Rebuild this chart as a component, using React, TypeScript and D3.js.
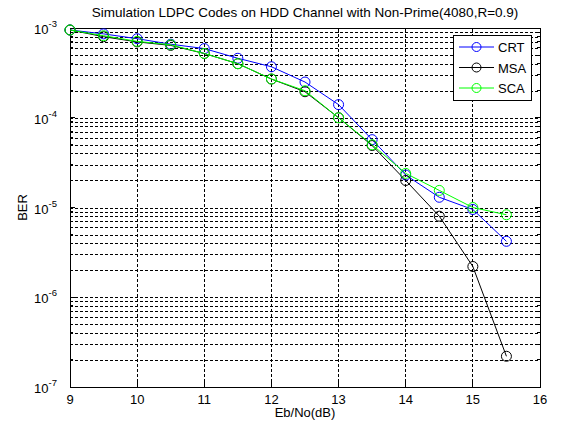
import React, { useEffect, useRef } from "react";
import * as d3 from "d3";

const ebno = [9, 9.5, 10, 10.5, 11, 11.5, 12, 12.5, 13, 13.5, 14, 14.5, 15, 15.5];
const crt = [9.5e-4, 8.6e-4, 7.6e-4, 6.6e-4, 5.9e-4, 4.6e-4, 3.7e-4, 2.5e-4, 1.4e-4, 5.7e-5, 2.3e-5, 1.3e-5, 9.5e-6, 4.2e-6];
const msa = [9.5e-4, 8.0e-4, 7.0e-4, 6.4e-4, 5.2e-4, 4.0e-4, 2.7e-4, 1.95e-4, 1.0e-4, 4.9e-5, 2.0e-5, 8.0e-6, 2.2e-6, 2.2e-7];
const sca = [9.5e-4, 8.2e-4, 7.1e-4, 6.5e-4, 5.2e-4, 4.0e-4, 2.7e-4, 2.0e-4, 1.0e-4, 5.0e-5, 2.4e-5, 1.55e-5, 1.0e-5, 8.3e-6];
const xTicks = [9, 10, 11, 12, 13, 14, 15, 16];
const yExps = [-3, -4, -5, -6, -7];

const series = [
  { name: "CRT", values: crt, color: "#0000ff" },
  { name: "MSA", values: msa, color: "#000000" },
  { name: "SCA", values: sca, color: "#00ff00" },
];

export default function App() {
  const ref = useRef<SVGSVGElement>(null);

  useEffect(() => {
    const width = 578;
    const height = 428;
    const margin = { top: 28, right: 38, bottom: 41, left: 70 };
    const font = "Liberation Sans, Arial, sans-serif";

    const svg = d3.select(ref.current);
    svg.selectAll("*").remove();

    const x = d3.scaleLinear().domain([9, 16]).range([margin.left, width - margin.right]);
    const y = d3.scaleLog().domain([1e-7, 1e-3]).range([height - margin.bottom, margin.top]);
    const [x0, x1] = x.range();
    const [y0, y1] = y.range();

    svg.append("rect").attr("width", width).attr("height", height).attr("fill", "#fff");

    // Grid
    const grid = svg.append("g").attr("stroke", "#000").attr("stroke-width", 1)
      .attr("stroke-dasharray", "3,2").attr("shape-rendering", "crispEdges");
    xTicks.slice(1, -1).forEach((t) => {
      grid.append("line").attr("x1", x(t)).attr("x2", x(t)).attr("y1", y0).attr("y2", y1);
    });
    const minor: number[] = [];
    const major: number[] = [];
    for (let e = -7; e < -3; e++) {
      for (let m = 1; m <= 9; m++) {
        const v = m * Math.pow(10, e);
        if (m === 1) major.push(v);
        else minor.push(v);
      }
    }
    major.push(1e-3);
    [...major.slice(1, -1), ...minor].forEach((v) => {
      grid.append("line").attr("x1", x0).attr("x2", x1).attr("y1", Math.round(y(v)) + 0.5).attr("y2", Math.round(y(v)) + 0.5);
    });

    // Ticks
    const ticks = svg.append("g").attr("stroke", "#000").attr("shape-rendering", "crispEdges");
    xTicks.forEach((t) => {
      ticks.append("line").attr("x1", x(t)).attr("x2", x(t)).attr("y1", y0).attr("y2", y0 - 5);
      ticks.append("line").attr("x1", x(t)).attr("x2", x(t)).attr("y1", y1).attr("y2", y1 + 5);
    });
    major.forEach((v) => {
      ticks.append("line").attr("x1", x0).attr("x2", x0 + 5).attr("y1", y(v)).attr("y2", y(v));
      ticks.append("line").attr("x1", x1).attr("x2", x1 - 5).attr("y1", y(v)).attr("y2", y(v));
    });
    minor.forEach((v) => {
      ticks.append("line").attr("x1", x0).attr("x2", x0 + 3).attr("y1", y(v)).attr("y2", y(v));
      ticks.append("line").attr("x1", x1).attr("x2", x1 - 3).attr("y1", y(v)).attr("y2", y(v));
    });

    // Axes box
    svg.append("rect").attr("x", x0).attr("y", y1).attr("width", x1 - x0).attr("height", y0 - y1)
      .attr("fill", "none").attr("stroke", "#000").attr("shape-rendering", "crispEdges");

    // Tick labels
    xTicks.forEach((t) => {
      svg.append("text").attr("x", x(t)).attr("y", y0 + 17).attr("text-anchor", "middle")
        .attr("font-family", font).attr("font-size", 13).attr("fill", "#000").text(t);
    });
    yExps.forEach((e) => {
      const t = svg.append("text").attr("x", x0 - 13).attr("y", y(Math.pow(10, e)) + 6)
        .attr("text-anchor", "end").attr("font-family", font).attr("font-size", 13).attr("fill", "#000");
      t.append("tspan").text("10");
      t.append("tspan").attr("font-size", 9.5).attr("dy", -7).text(String(e));
    });

    // Lines and markers
    const line = d3.line<number>().x((_, i) => x(ebno[i])).y((d) => y(d));
    series.forEach((s) => {
      svg.append("path").datum(s.values).attr("d", line).attr("fill", "none")
        .attr("stroke", s.color).attr("stroke-width", 1);
      svg.append("g").selectAll("circle").data(s.values).join("circle")
        .attr("cx", (_, i) => x(ebno[i])).attr("cy", (d) => y(d)).attr("r", 5)
        .attr("fill", "none").attr("stroke", s.color).attr("stroke-width", 1);
    });

    // Legend
    const lg = svg.append("g").attr("transform", `translate(${x1 - 87},${y1 + 7})`);
    lg.append("rect").attr("width", 78).attr("height", 65).attr("fill", "#fff").attr("stroke", "#000")
      .attr("shape-rendering", "crispEdges");
    series.forEach((s, i) => {
      const ly = 12 + i * 20.5;
      lg.append("line").attr("x1", 6).attr("x2", 41).attr("y1", ly).attr("y2", ly)
        .attr("stroke", s.color);
      lg.append("circle").attr("cx", 23.5).attr("cy", ly).attr("r", 4.5).attr("fill", "none").attr("stroke", s.color);
      lg.append("text").attr("x", 45).attr("y", ly + 5).attr("font-family", font).attr("font-size", 13)
        .attr("fill", "#000").text(s.name);
    });

    // Titles
    svg.append("text").attr("x", (x0 + x1) / 2).attr("y", 17).attr("text-anchor", "middle")
      .attr("font-family", font).attr("font-size", 13.5).attr("fill", "#000")
      .text("Simulation LDPC Codes on HDD Channel with Non-Prime(4080,R=0.9)");
    svg.append("text").attr("x", (x0 + x1) / 2).attr("y", y0 + 30).attr("text-anchor", "middle")
      .attr("font-family", font).attr("font-size", 13).attr("fill", "#000").text("Eb/No(dB)");
    svg.append("text").attr("transform", `translate(27,${(y0 + y1) / 2}) rotate(-90)`)
      .attr("text-anchor", "middle").attr("font-family", font).attr("font-size", 13).attr("fill", "#000").text("BER");
  }, []);

  return <svg ref={ref} width={578} height={428} style={{ display: "block", margin: "-8px" }} />;
}
